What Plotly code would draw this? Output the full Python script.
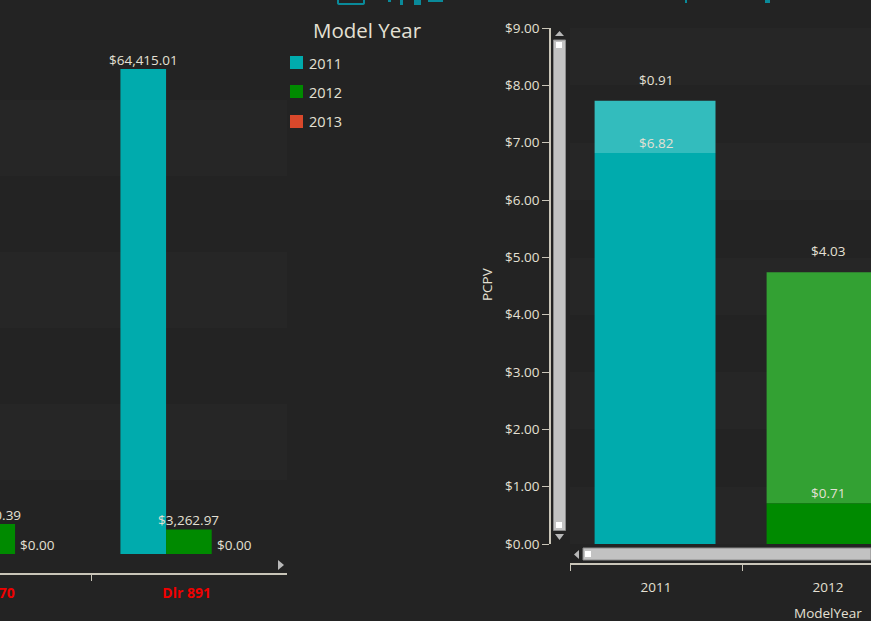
import plotly.graph_objects as go

W, H = 871, 621
BG = "#232323"
TXT = "#e4e0d4"
AX = "#c9c5b8"
FONT = "Open Sans"
FS = 13.5


def px(x):
    return x / W


def py(y):
    return 1 - y / H


# Left chart data
dealers = ["Dlr 870", "Dlr 891"]
model_years = ["2011", "2012", "2013"]
sales_2011 = [60210.00, 64415.01]
sales_2012 = [3980.39, 3262.97]
sales_2013 = [0.00, 0.00]
year_colors = ["#00abad", "#008a00", "#d9482b"]

# Right chart data
pcpv_years = ["2011", "2012"]
pcpv_lower = [6.82, 0.71]
pcpv_upper = [0.91, 4.03]
pcpv_lower_colors = ["#00abad", "#008a00"]
pcpv_upper_colors = ["#33bcbd", "#33a133"]
pcpv_ticks = [0, 1, 2, 3, 4, 5, 6, 7, 8, 9]


def money(v):
    return f"${v:,.2f}"


fig = go.Figure()

left_series = [sales_2011, sales_2012, sales_2013]
BAR_W = 0.2321
BAR_OFF = -0.352
for i, (name, vals, col) in enumerate(zip(model_years, left_series, year_colors)):
    fig.add_trace(go.Bar(
        x=dealers, y=vals, name=name, xaxis="x", yaxis="y",
        marker=dict(color=col, line=dict(width=0)),
        width=BAR_W, offset=BAR_OFF + i * BAR_W,
        cliponaxis=False, showlegend=False,
    ))

fig.add_trace(go.Bar(
    x=pcpv_years, y=pcpv_lower, name="Lower", xaxis="x2", yaxis="y2",
    marker=dict(color=pcpv_lower_colors, line=dict(width=0)),
    width=0.703, offset=-0.357, showlegend=False,
))
fig.add_trace(go.Bar(
    x=pcpv_years, y=pcpv_upper, base=pcpv_lower, name="Upper", xaxis="x2", yaxis="y2",
    marker=dict(color=pcpv_upper_colors, line=dict(width=0)),
    width=0.703, offset=-0.357, showlegend=False,
))

annotations = []


def note(text, x, y, size=FS, color=TXT, **kw):
    kw.setdefault("yanchor", "middle")
    kw.setdefault("xanchor", "center")
    annotations.append(dict(text=text, x=x, y=y, showarrow=False,
                            font=dict(family=FONT, size=size, color=color), **kw))


# Left chart value labels
for s, vals in enumerate(left_series):
    for c, v in enumerate(vals):
        xc = c + BAR_OFF + (s + 0.5) * BAR_W
        if xc < 0.0357:
            if s == 1:  # centre lies left of the visible range: anchor the text's right end instead
                note(money(v), 0.153, v, xref="x", yref="y", xanchor="right", yshift=9.5)
            continue
        note(money(v), xc, v, xref="x", yref="y", yshift=9.5)

# Right chart value labels
for i, (lo, up) in enumerate(zip(pcpv_lower, pcpv_upper)):
    note(money(lo), i, lo, xref="x2", yref="y2", yanchor="bottom", yshift=-1)
    note(money(up), i, lo + up, xref="x2", yref="y2", yanchor="bottom", yshift=10)

# Off-axis text
note("<b>Dlr 870</b>", px(17), py(592), size=14, color="#f00000", xref="paper", yref="paper", xanchor="right")
note("ModelYear", px(828), py(613), xref="paper", yref="paper")
note("PCPV", px(487), py(284), textangle=-90, xref="paper", yref="paper")
note("Model Year", px(367), py(30), size=20.5, xref="paper", yref="paper")

shapes = []
BANDS = {"#262626"}


def rect(x0, y0, x1, y1, fill, line=None):
    shapes.append(dict(type="rect", xref="paper", yref="paper", x0=px(x0), x1=px(x1),
                       y0=py(y0), y1=py(y1), fillcolor=fill, layer="below" if fill in BANDS else "above",
                       line=dict(width=1 if line else 0, color=line or fill)))


def tri(points, fill):
    path = "M" + "L".join(f"{px(a):.5f},{py(b):.5f}" for a, b in points) + "Z"
    shapes.append(dict(type="path", xref="paper", yref="paper", path=path,
                       fillcolor=fill, line=dict(width=0)))


# faint background bands
for top in [100, 252, 404]:
    rect(0, top, 287, top + 76, "#262626")
for top in [28, 143, 258, 372, 487]:
    rect(570, top, 871, top + 57, "#262626")

# Legend
for name, col, y in zip(model_years, year_colors, [63, 92, 122]):
    rect(290, y - 7, 303, y + 6, col)
    note(name, px(307), py(y), size=14.5, xref="paper", yref="paper", xanchor="left")

# Scrollbars
SB = "#c2c2c2"
rect(553.5, 40, 565.5, 530.5, SB, "#8a8a8a")
rect(556, 42, 562, 48, "#ffffff")
rect(556, 522, 562, 528, "#ffffff")
tri([(555, 36), (564, 36), (559.5, 31)], "#b8b8b8")
tri([(555, 534), (564, 534), (559.5, 540)], "#b8b8b8")
rect(583, 548, 871, 560, SB, "#8a8a8a")
rect(585, 551, 591, 557, "#ffffff")
tri([(579, 550), (579, 559), (574, 554.5)], "#b8b8b8")
tri([(278, 560), (278, 570), (284, 565)], "#b8b8b8")

# Clipped header fragments
TEAL = "#0a8a9a"
shapes.append(dict(type="path", xref="paper", yref="paper",
                   path=f"M{px(338)},{py(0)}L{px(338)},{py(3)}Q{px(338)},{py(4)} {px(340)},{py(4)}"
                        f"L{px(362)},{py(4)}Q{px(364)},{py(4)} {px(364)},{py(3)}L{px(364)},{py(0)}",
                   line=dict(width=2, color=TEAL)))
for a, b, c in [(388, 391, 2), (400, 403, 5), (414, 421, 5), (428, 443, 2), (685, 687, 3), (765, 770, 3)]:
    rect(a, 0, b, c, TEAL)

fig.update_layout(
    width=W, height=H, autosize=False,
    margin=dict(l=0, r=0, t=0, b=0, autoexpand=False),
    paper_bgcolor=BG, plot_bgcolor="rgba(0,0,0,0)",
    barmode="overlay", showlegend=False,
    font=dict(family=FONT, size=FS, color=TXT),
    annotations=annotations, shapes=shapes,
    xaxis=dict(
        domain=[0, px(287)], anchor="free", position=py(574),
        type="category", categoryorder="array", categoryarray=dealers,
        range=[0.0357, 1.495], tickson="boundaries",
        showline=True, linecolor=AX, linewidth=1.5, showgrid=False, zeroline=False,
        ticks="outside", ticklen=6, tickcolor=AX, tickwidth=1, ticklabelstandoff=6,
        ticklabelshift=-3,
        tickfont=dict(family=FONT, size=14, color="#f00000", weight="bold"),
    ),
    yaxis=dict(
        domain=[py(554), py(20)], anchor="free", position=0,
        range=[0, 70924], visible=False,
    ),
    xaxis2=dict(
        domain=[px(570), 1], anchor="free", position=py(564),
        type="category", categoryorder="array", categoryarray=pcpv_years,
        range=[-0.5, 1.25], tickson="boundaries",
        showline=True, linecolor=AX, linewidth=1.5, showgrid=False, zeroline=False,
        ticks="outside", ticklen=6, tickcolor=AX, tickwidth=1, ticklabelstandoff=11,
        tickfont=dict(family=FONT, size=FS, color=TXT),
    ),
    yaxis2=dict(
        domain=[py(544), py(28)], anchor="free", position=px(550),
        range=[0, 9], tickvals=pcpv_ticks, ticktext=[money(t) for t in pcpv_ticks],
        showline=True, linecolor=AX, linewidth=1.5, showgrid=False, zeroline=False,
        ticks="outside", ticklen=7, tickcolor=AX, tickwidth=1,
        tickfont=dict(family=FONT, size=FS, color=TXT),
    ),
)

fig.write_html("out.html", config=dict(displayModeBar=False),
               post_script="document.body.style.margin='0';document.body.style.background='#232323';")
